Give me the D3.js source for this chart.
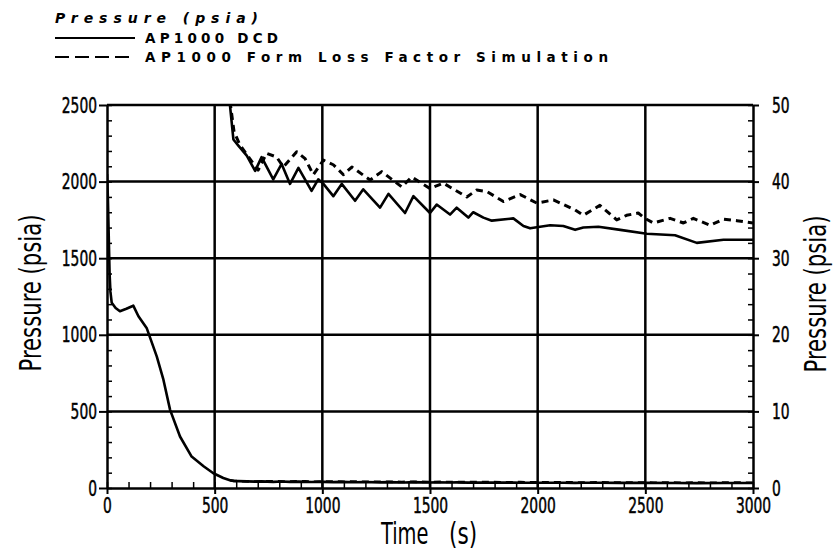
<!DOCTYPE html>
<html>
<head>
<meta charset="utf-8">
<script src="https://cdn.jsdelivr.net/npm/d3@7"></script>
<style>
  body { margin: 0; background: #fff; }
  svg { display: block; }
  .tick text { font-family: "DejaVu Sans Condensed", "DejaVu Sans", sans-serif; font-size: 22px; fill: #000; stroke: #000; stroke-width: 0.5px; }
</style>
</head>
<body>
<div id="chart"></div>
<script>
// DCD pressure (psia) vs time (s)
const dcdTime = [0, 4, 8, 12, 16, 22, 40, 60, 90, 122, 146, 184, 231, 262, 293, 339, 393, 450, 494, 540, 571, 587, 610, 649, 688, 718, 772, 811, 850, 889, 950, 981, 1005, 1051, 1090, 1152, 1190, 1268, 1307, 1384, 1423, 1500, 1531, 1593, 1624, 1678, 1701, 1748, 1787, 1887, 1934, 1965, 2058, 2119, 2174, 2212, 2282, 2384, 2507, 2638, 2739, 2863, 3000]
const dcdPressure = [2050, 1900, 1650, 1400, 1280, 1209, 1175, 1154, 1170, 1190, 1121, 1045, 859, 707, 510, 336, 205, 140, 96, 65, 50, 45.5, 44.7, 43.4, 41.4, 43.2, 40.3, 42.3, 39.7, 41.8, 38.8, 40.3, 39.7, 38.1, 39.7, 37.5, 39.0, 36.6, 38.4, 35.9, 38.1, 35.9, 37.0, 35.7, 36.6, 35.3, 36.0, 35.3, 34.9, 35.2, 34.2, 33.9, 34.3, 34.2, 33.7, 34.0, 34.1, 33.7, 33.2, 33.0, 32.0, 32.4, 32.4]

// Form loss factor simulation pressure (psia) vs time (s)
const flTime = [571, 590, 617, 663, 702, 741, 788, 819, 881, 920, 958, 1005, 1051, 1098, 1137, 1222, 1276, 1369, 1415, 1500, 1562, 1671, 1717, 1764, 1841, 1919, 1996, 2073, 2174, 2212, 2289, 2367, 2413, 2467, 2498, 2537, 2615, 2677, 2723, 2801, 2863, 2925, 3000]
const flPressure = [50.5, 46.5, 44.8, 43.0, 41.5, 43.7, 43.2, 41.9, 43.9, 43.0, 40.9, 42.8, 42.2, 40.9, 41.9, 40.2, 41.3, 39.3, 40.6, 39.1, 39.8, 38.0, 38.9, 38.7, 37.4, 38.3, 37.2, 37.6, 36.3, 35.6, 36.9, 35.0, 35.6, 35.9, 35.2, 34.6, 35.2, 34.6, 35.2, 34.3, 35.1, 34.9, 34.6]

const xTicks = [0, 500, 1000, 1500, 2000, 2500, 3000]
const yLeftTicks = [0, 500, 1000, 1500, 2000, 2500]
const yRightTicks = [0, 10, 20, 30, 40, 50]

const W = 833, H = 550
const PLOT = {LEFT: 107, RIGHT: 753, TOP: 105, BOTTOM: 488}
const SX = 0.7 // narrow the tick digits like the original typeface

const svg = d3.select("#chart").append("svg")
  .attr("width", W).attr("height", H)

svg.append("rect").attr("width", W).attr("height", H).attr("fill", "#fff")

const x = d3.scaleLinear().domain([0, 3000]).range([PLOT.LEFT, PLOT.RIGHT])
const yL = d3.scaleLinear().domain([0, 2500]).range([PLOT.BOTTOM, PLOT.TOP])
const yR = d3.scaleLinear().domain([0, 50]).range([PLOT.BOTTOM, PLOT.TOP])

// clip
svg.append("clipPath").attr("id", "clip")
  .append("rect")
  .attr("x", PLOT.LEFT).attr("y", PLOT.TOP)
  .attr("width", PLOT.RIGHT - PLOT.LEFT).attr("height", PLOT.BOTTOM - PLOT.TOP)

// grid
const grid = svg.append("g").attr("stroke", "#000").attr("stroke-width", 2.5)
grid.selectAll("line.h").data(yLeftTicks.slice(1))
  .join("line").attr("class", "h")
  .attr("x1", PLOT.LEFT).attr("x2", PLOT.RIGHT)
  .attr("y1", d => yL(d)).attr("y2", d => yL(d))
grid.selectAll("line.v").data(xTicks.slice(1, -1))
  .join("line").attr("class", "v")
  .attr("y1", PLOT.TOP).attr("y2", PLOT.BOTTOM)
  .attr("x1", d => x(d)).attr("x2", d => x(d))

// minor ticks helper
function minors(scale, step) {
  const [a, b] = scale.domain()
  const out = []
  for (let v = a; v <= b + 1e-9; v += step) out.push(+v.toFixed(6))
  return out
}

function styleAxis(g) {
  g.select(".domain").attr("stroke-width", 2.5)
  g.selectAll(".tick line").attr("stroke-width", 2)
  g.selectAll(".tick text").each(function () {
    const t = d3.select(this)
    const tx = +t.attr("x") || 0
    t.attr("x", tx / SX).attr("transform", `scale(${SX},1)`)
  })
}

const fmt = d3.format("d")

// left axis
svg.append("g").attr("transform", `translate(${PLOT.LEFT},0)`)
  .call(d3.axisLeft(yL).tickValues(yLeftTicks).tickFormat(fmt).tickSize(8).tickSizeOuter(0).tickPadding(2))
  .call(styleAxis)
svg.append("g").attr("transform", `translate(${PLOT.LEFT},0)`)
  .call(d3.axisRight(yL).tickValues(minors(yL, 100)).tickSize(5).tickFormat(""))
  .call(g => g.select(".domain").remove())
  .call(g => g.selectAll(".tick line").attr("stroke-width", 1.5))

// right axis
svg.append("g").attr("transform", `translate(${PLOT.RIGHT},0)`)
  .call(d3.axisRight(yR).tickValues(yRightTicks).tickFormat(fmt).tickSize(6).tickSizeOuter(0).tickPadding(13))
  .call(styleAxis)
svg.append("g").attr("transform", `translate(${PLOT.RIGHT},0)`)
  .call(d3.axisLeft(yR).tickValues(minors(yR, 2)).tickSize(5).tickFormat(""))
  .call(g => g.select(".domain").remove())
  .call(g => g.selectAll(".tick line").attr("stroke-width", 1.5))

// bottom axis
svg.append("g").attr("transform", `translate(0,${PLOT.BOTTOM})`)
  .call(d3.axisBottom(x).tickValues(xTicks).tickFormat(fmt).tickSize(6).tickSizeOuter(0).tickPadding(3))
  .call(styleAxis)
svg.append("g").attr("transform", `translate(0,${PLOT.BOTTOM})`)
  .call(d3.axisTop(x).tickValues(minors(x, 100)).tickSize(6).tickFormat(""))
  .call(g => g.select(".domain").remove())
  .call(g => g.selectAll(".tick line").attr("stroke-width", 1.5))

// curves
const dcd = dcdTime.map((t, i) => ({t, p: dcdPressure[i]}))
const fl = flTime.map((t, i) => ({t, p: flPressure[i]}))

const curves = svg.append("g").attr("clip-path", "url(#clip)")
  .attr("fill", "none").attr("stroke", "#000").attr("stroke-width", 2.6)
  .attr("stroke-linejoin", "round")

const lineL = d3.line().x(d => x(d.t)).y(d => yL(d.p))
const lineR = d3.line().x(d => x(d.t)).y(d => yR(d.p))

curves.append("path").attr("d", lineL(dcd))
curves.append("path").attr("d", lineL(fl)).attr("stroke-dasharray", "7,5")
curves.append("path").attr("d", lineR(dcd))
curves.append("path").attr("d", lineR(fl)).attr("stroke-dasharray", "7,5").attr("stroke-width", 3)

// axis titles
const titleFont = "'DejaVu Sans Condensed', 'DejaVu Sans', sans-serif"
svg.append("text")
  .attr("transform", `translate(41,293) rotate(-90) scale(0.76,1)`)
  .attr("text-anchor", "middle")
  .attr("font-family", titleFont).attr("font-size", 31)
  .text("Pressure (psia)")
svg.append("text")
  .attr("transform", `translate(826,294) rotate(-90) scale(0.76,1)`)
  .attr("text-anchor", "middle")
  .attr("font-family", titleFont).attr("font-size", 31)
  .text("Pressure (psia)")
svg.append("text")
  .attr("transform", `translate(381,544) scale(0.72,1)`)
  .attr("font-family", titleFont).attr("font-size", 30)
  .text("Time")
svg.append("text")
  .attr("transform", `translate(449,544) scale(0.8,1)`)
  .attr("font-family", titleFont).attr("font-size", 30)
  .text("(s)")

// legend
const legFont = "'DejaVu Sans', sans-serif"
svg.append("text")
  .attr("x", 55).attr("y", 23)
  .attr("font-family", legFont).attr("font-size", 14).attr("font-weight", "bold")
  .attr("font-style", "italic")
  .attr("textLength", 203).attr("lengthAdjust", "spacing")
  .text("Pressure (psia)")
const legItems = [
  {label: "AP1000 DCD", dash: null, y: 38, len: 133},
  {label: "AP1000 Form Loss Factor Simulation", dash: "14,6", y: 57, len: 463}
]
legItems.forEach(it => {
  svg.append("line")
    .attr("x1", 55).attr("x2", 135).attr("y1", it.y).attr("y2", it.y)
    .attr("stroke", "#000").attr("stroke-width", 2.2)
    .attr("stroke-dasharray", it.dash)
  svg.append("text")
    .attr("x", 145).attr("y", it.y + 5)
    .attr("font-family", legFont).attr("font-size", 13.5).attr("font-weight", "bold")
    .attr("textLength", it.len).attr("lengthAdjust", "spacing")
    .text(it.label)
})
</script>
</body>
</html>
